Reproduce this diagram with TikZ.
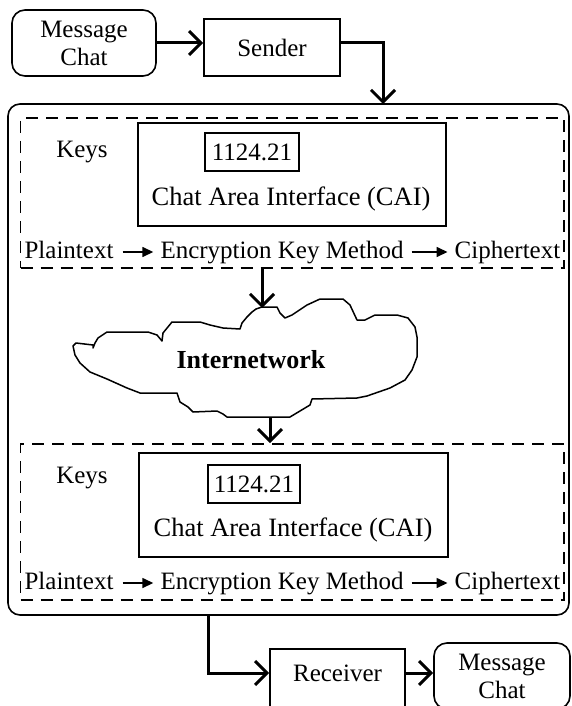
\documentclass[tikz,border=0pt]{standalone}
\usepackage{fontspec}
\setmainfont{Liberation Serif}
\usetikzlibrary{arrows.meta}
\begin{document}
\begin{tikzpicture}[x=1pt,y=-1pt,
  every node/.style={font=\fontsize{25}{28}\selectfont, inner sep=0pt},
  sbox/.style={draw, line width=1.6pt},
  rbox/.style={draw, line width=1.6pt, rounded corners=13pt, align=center},
  bigbox/.style={draw, line width=1.6pt, rounded corners=12pt},
  dbox/.style={draw, line width=1.6pt, dash pattern=on 12pt off 8pt},
  rowtxt/.style={anchor=base, text height=17pt, text depth=5pt},
  caitxt/.style={anchor=base, font=\fontsize{26.5}{30}\selectfont},
  conn/.style={line width=3pt, -{Straight Barb[length=12pt,width=24pt]}},
  rowarr/.style={line width=1.5pt, -{Triangle[length=11pt,width=10pt]}}]
\useasboundingbox (0,0) rectangle (572,706);
\clip (0,0) rectangle (572,706);
\fill[white] (0,0) rectangle (572,706);

% top row
\node[rbox, minimum width=144pt, minimum height=66pt] (msg1) at (84,43) {Message\\Chat};
\node[sbox, minimum width=136pt, minimum height=57pt] (sender) at (272,47.5) {Sender};

% big container
\node[bigbox, minimum width=561pt, minimum height=511pt] (big) at (288.5,359.5) {};

% upper dashed section
\node[dbox, minimum width=543.5pt, minimum height=150pt] (dash1) at (292.25,193) {};
\node[sbox, minimum width=308pt, minimum height=103pt] (cai1) at (292,174.5) {};
\node[sbox, minimum width=94pt, minimum height=38pt] (num1) at (252,152) {1124.21};
\node[anchor=base] (keys1) at (82,157) {Keys};
\node[caitxt] (caitxt1) at (291,205.5) {Chat Area Interface (CAI)};
\node[rowtxt] (plain1) at (69,258) {Plaintext};
\node[rowtxt] (enc1) at (282,258) {Encryption Key Method};
\node[rowtxt] (ciph1) at (507.5,258) {Ciphertext};
\draw[rowarr, shorten <=9pt, shorten >=7pt] (plain1.east) -- (enc1.west);
\draw[rowarr, shorten <=8pt, shorten >=7pt] (enc1.east) -- (ciph1.west);

% cloud
\draw[line width=1.5pt, fill=white, line join=round]
  (73,346) -- (76,343) -- (93,345) -- (93,348) -- (95,343) -- (98,338) -- (107,332)
  -- (148,332) -- (157,335) -- (162,341) -- (163,333) -- (172,322) -- (200,322)
  -- (210,325) -- (223,328) -- (240,329) -- (242,323) -- (247,317) -- (252,312)
  -- (256,309) -- (262,307) -- (277,307) -- (280,313) -- (285,318) -- (292,315)
  -- (307,305) -- (320,299) -- (343,299) -- (350,305) -- (357,320) -- (365,320)
  -- (375,315) -- (397,315) -- (408,318) -- (415,327) -- (417,337) -- (417,357)
  -- (412,370) -- (405,380) -- (390,388) -- (367,396) -- (357,398) -- (312,399)
  -- (310,405) -- (305,408) -- (290,417) -- (260,417) -- (227,417) -- (223,414)
  -- (217,411) -- (193,412) -- (188,407) -- (180,402) -- (177,393) -- (140,393)
  -- (127,388) -- (107,379) -- (90,372) -- (80,363) -- (75,355) -- cycle;
\node[font=\fontsize{26}{30}\selectfont\bfseries] (inet) at (251,360) {Internetwork};
\coordinate (cloudtop) at (262,308);
\coordinate (cloudbot) at (270,417);

% lower dashed section
\node[dbox, minimum width=543.5pt, minimum height=156pt] (dash2) at (292.25,522) {};
\node[sbox, minimum width=309pt, minimum height=104pt] (cai2) at (293.5,505) {};
\node[sbox, minimum width=92pt, minimum height=38pt] (num2) at (254,484) {1124.21};
\node[anchor=base] (keys2) at (82,483) {Keys};
\node[caitxt] (caitxt2) at (293,536) {Chat Area Interface (CAI)};
\node[rowtxt] (plain2) at (69,589) {Plaintext};
\node[rowtxt] (enc2) at (282,589) {Encryption Key Method};
\node[rowtxt] (ciph2) at (507.5,589) {Ciphertext};
\draw[rowarr, shorten <=9pt, shorten >=7pt] (plain2.east) -- (enc2.west);
\draw[rowarr, shorten <=8pt, shorten >=7pt] (enc2.east) -- (ciph2.west);

% bottom row
\node[sbox, minimum width=135pt, minimum height=62pt] (recv) at (337.5,680) {};
\node (recvtxt) at (337.5,673) {Receiver};
\node[rbox, minimum width=136pt, minimum height=66pt] (msg2) at (502,676) {Message\\Chat};

% connectors
\coordinate (bigin) at (383,104);
\coordinate (bigout) at (208,615);
\draw[conn] (msg1.east) -- (sender.west |- msg1.east);
\draw[conn, line join=miter] (sender.east |- msg1.east) -| (bigin);
\draw[conn] (dash1.south -| cloudtop) -- (cloudtop);
\draw[conn] (cloudbot) -- (cloudbot |- dash2.north);
\draw[conn, line join=miter] (bigout) |- (recv.west |- recvtxt.center);
\draw[conn] (recv.east |- recvtxt.center) -- (msg2.west |- recvtxt.center);
\end{tikzpicture}
\end{document}
